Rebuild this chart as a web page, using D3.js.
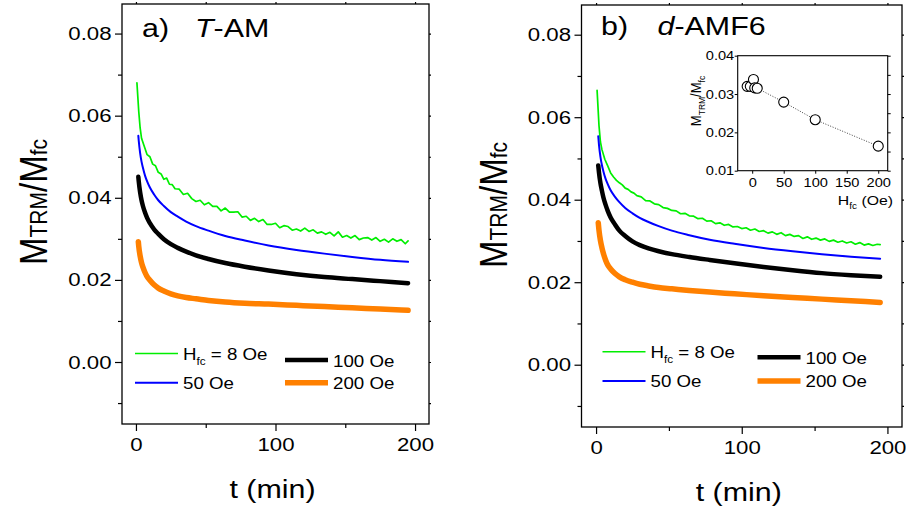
<!DOCTYPE html>
<html>
<head>
<meta charset="utf-8">
<script src="https://cdn.jsdelivr.net/npm/d3@7"></script>
<style>
  body { margin: 0; background: #fff; }
</style>
</head>
<body>
<svg id="chart" width="906" height="510"></svg>
<script>
// ---- data ----
const fieldNames = ["8 Oe", "50 Oe", "100 Oe", "200 Oe"];
const xMajorTicks = [0, 100, 200];
const xMinorTicks = [50, 150];
const yMajorTicks = [0, 0.02, 0.04, 0.06, 0.08];
const yMinorTicks = [-0.01, 0.01, 0.03, 0.05, 0.07];

// noisy 8 Oe relaxation (sampled densely)
const tGreen = [0.7, 2, 3, 4, 6, 8, 10, 12, 14, 16, 18, 20, 22, 24, 26, 28,
  31, 34, 37, 40, 43, 46, 49, 52, 55, 58, 61, 64, 67, 70, 73, 76, 79, 82, 85, 88,
  91, 94, 97, 100, 103, 106, 109, 112, 115, 118, 121, 124, 127, 130, 133, 136, 139, 142, 145, 148,
  151, 154, 157, 160, 163, 166, 169, 172, 175, 178, 181, 184, 187, 190, 193, 195];
const greenA = [0.0680, 0.0610, 0.0570, 0.0545, 0.0525, 0.0505, 0.0500, 0.0482, 0.0478, 0.0462, 0.0458, 0.0445, 0.0448, 0.0433, 0.0432, 0.0422,
  0.0421, 0.0408, 0.0411, 0.0398, 0.0391, 0.0394, 0.0383, 0.0388, 0.0379, 0.0379, 0.0368, 0.0375, 0.0365, 0.0365, 0.0366, 0.0353, 0.0355, 0.0345, 0.0350, 0.0342,
  0.0347, 0.0335, 0.0335, 0.0338, 0.0327, 0.0332, 0.0330, 0.0321, 0.0324, 0.0319, 0.0326, 0.0318, 0.0322, 0.0314, 0.0317, 0.0311, 0.0316, 0.0307, 0.0317, 0.0304,
  0.0308, 0.0302, 0.0308, 0.0298, 0.0302, 0.0303, 0.0297, 0.0303, 0.0294, 0.0299, 0.0292, 0.0300, 0.0294, 0.0298, 0.0288, 0.0295];
const greenB = [0.0665, 0.0580, 0.0540, 0.0522, 0.0498, 0.0482, 0.0465, 0.0455, 0.0447, 0.0441, 0.0436, 0.0428, 0.0425, 0.0419, 0.0416, 0.0410,
  0.0407, 0.0398, 0.0397, 0.0390, 0.0388, 0.0381, 0.0379, 0.0374, 0.0373, 0.0366, 0.0367, 0.0361, 0.0360, 0.0354, 0.0355, 0.0348, 0.0349, 0.0342, 0.0344, 0.0338,
  0.0340, 0.0334, 0.0335, 0.0330, 0.0332, 0.0326, 0.0329, 0.0323, 0.0325, 0.0319, 0.0322, 0.0316, 0.0320, 0.0313, 0.0316, 0.0311, 0.0313, 0.0306, 0.0310, 0.0304,
  0.0307, 0.0302, 0.0305, 0.0299, 0.0302, 0.0297, 0.0300, 0.0295, 0.0298, 0.0292, 0.0296, 0.0290, 0.0293, 0.0289, 0.0292, 0.0291];

// smooth curves, panel a (T-AM)
const tA = [1.7, 2, 3, 4, 5, 6.5, 8, 10, 13, 16, 20, 25, 30, 36, 43, 52, 64, 78, 95, 115, 135, 155, 175, 195];
const blueA = [0.0551, 0.0539, 0.0509, 0.0488, 0.0473, 0.0454, 0.0440, 0.0425, 0.0408, 0.0394, 0.0380, 0.0365,
  0.0354, 0.0342, 0.0331, 0.0320, 0.0307, 0.0296, 0.0284, 0.0273, 0.0264, 0.0256, 0.0249, 0.0244];
const blackA = [0.0451, 0.0440, 0.0413, 0.0394, 0.0380, 0.0364, 0.0351, 0.0338, 0.0323, 0.0312, 0.0299, 0.0287,
  0.0278, 0.0269, 0.0260, 0.0251, 0.0241, 0.0232, 0.0223, 0.0214, 0.0207, 0.0202, 0.0197, 0.0192];
const orangeA = [0.0293, 0.0282, 0.0258, 0.0242, 0.0231, 0.0218, 0.0208, 0.0199, 0.0188, 0.0180, 0.0173, 0.0166,
  0.0161, 0.0157, 0.0154, 0.0150, 0.0146, 0.0143, 0.0141, 0.0138, 0.0135, 0.0132, 0.0129, 0.0126];

// smooth curves, panel b (d-AMF6)
const tB = [1.5, 2, 3, 4, 5, 6.5, 8, 10, 13, 16, 20, 25, 30, 36, 43, 52, 64, 78, 95, 115, 135, 155, 175, 195];
const blueB = [0.0554, 0.0533, 0.0504, 0.0484, 0.0469, 0.0451, 0.0438, 0.0423, 0.0407, 0.0394, 0.0380, 0.0367,
  0.0356, 0.0346, 0.0336, 0.0325, 0.0314, 0.0303, 0.0293, 0.0283, 0.0275, 0.0268, 0.0262, 0.0257];
const blackB = [0.0483, 0.0466, 0.0440, 0.0422, 0.0406, 0.0388, 0.0373, 0.0357, 0.0340, 0.0325, 0.0312, 0.0299,
  0.0290, 0.0282, 0.0275, 0.0268, 0.0261, 0.0254, 0.0246, 0.0237, 0.0229, 0.0222, 0.0217, 0.0213];
const orangeB = [0.0344, 0.0326, 0.0301, 0.0284, 0.0270, 0.0254, 0.0242, 0.0232, 0.0221, 0.0213, 0.0206, 0.0200,
  0.0195, 0.0191, 0.0187, 0.0184, 0.0180, 0.0176, 0.0172, 0.0167, 0.0163, 0.0159, 0.0155, 0.0151];

// inset: ratio vs cooling field
const insetField = [-8, -3, 2, 4, 8, 50, 100, 200];
const insetRatio = [0.0320, 0.0320, 0.0338, 0.0316, 0.0315, 0.0279, 0.0233, 0.0164];
const insetXTicks = [0, 50, 100, 150, 200];
const insetYTicks = [0.01, 0.02, 0.03, 0.04];

// ---- drawing ----
const FONT = '"Liberation Sans", Arial, Helvetica, sans-serif';
const SX = 1.17; // the glyphs in the figure are a little wider than tall
const svg = d3.select("#chart");

function label(parent, x, y, size, extra) {
    return parent.append("text")
        .attr("transform", `translate(${x},${y}) scale(${SX},1)` + (extra || ""))
        .attr("font-family", FONT)
        .attr("font-size", size)
        .attr("fill", "#000");
}

function styleAxis(ax, fontSize) {
    ax.select(".domain").remove();
    ax.attr("font-family", null).attr("font-size", null);
    ax.selectAll("line").attr("stroke", "#000").attr("stroke-width", 1.2);
    ax.selectAll("text").attr("font-family", FONT).attr("font-size", fontSize).attr("fill", "#000");
}

function drawPanel(p) {
    const x = d3.scaleLinear().domain([-10, 210]).range([p.left, p.right]);
    const y = d3.scaleLinear().domain([-0.0151, 0.0872]).range([p.bottom, p.top]);
    const g = svg.append("g");

    // axes: major ticks with labels, minor ticks, mirrored ticks top/right
    const bx = g.append("g").attr("transform", `translate(0,${p.bottom})`)
        .call(d3.axisBottom(x).tickValues(xMajorTicks).tickSize(7).tickPadding(7).tickFormat(d3.format("d")));
    styleAxis(bx, 19);
    bx.selectAll("text").attr("transform", `scale(${SX},1)`);

    const bxm = g.append("g").attr("transform", `translate(0,${p.bottom})`)
        .call(d3.axisBottom(x).tickValues(xMinorTicks).tickSize(4).tickFormat(""));
    styleAxis(bxm, 19);

    const ly = g.append("g").attr("transform", `translate(${p.left},0)`)
        .call(d3.axisLeft(y).tickValues(yMajorTicks).tickSize(7).tickFormat(d3.format(".2f")));
    styleAxis(ly, 19);
    ly.selectAll("text").attr("x", -10.5 / SX).attr("transform", `scale(${SX},1)`);

    const lym = g.append("g").attr("transform", `translate(${p.left},0)`)
        .call(d3.axisLeft(y).tickValues(yMinorTicks).tickSize(4).tickFormat(""));
    styleAxis(lym, 19);

    const tx = g.append("g").attr("transform", `translate(0,${p.top})`)
        .call(d3.axisTop(x).tickValues(xMajorTicks.concat(xMinorTicks)).tickSize(2).tickFormat(""));
    styleAxis(tx, 19);
    const ry = g.append("g").attr("transform", `translate(${p.right},0)`)
        .call(d3.axisRight(y).tickValues(yMajorTicks.concat(yMinorTicks)).tickSize(2).tickFormat(""));
    styleAxis(ry, 19);

    g.append("rect")
        .attr("x", p.left).attr("y", p.top)
        .attr("width", p.right - p.left).attr("height", p.bottom - p.top)
        .attr("fill", "none").attr("stroke", "#000").attr("stroke-width", 1.3);

    // curves
    const smooth = d3.line().x(d => x(d[0])).y(d => y(d[1])).curve(d3.curveMonotoneX);
    const rough = d3.line().x(d => x(d[0])).y(d => y(d[1]));
    const series = [
        { t: tGreen, v: p.green, color: "#00ee00", w: 1.7, gen: rough },
        { t: p.t, v: p.blue, color: "#0000ff", w: 2, gen: smooth },
        { t: p.t, v: p.black, color: "#000000", w: 4.5, gen: smooth },
        { t: p.t, v: p.orange, color: "#ff8000", w: 5.5, gen: smooth }
    ];
    series.forEach(s => {
        g.append("path")
            .datum(s.t.map((t, i) => [t, s.v[i]]))
            .attr("d", s.gen)
            .attr("fill", "none")
            .attr("stroke", s.color)
            .attr("stroke-width", s.w)
            .attr("stroke-linecap", "round")
            .attr("stroke-linejoin", "round");
    });

    // legend
    series.forEach((s, i) => {
        const L = p.legend[i];
        g.append("line")
            .attr("x1", L.x).attr("x2", L.x + 43)
            .attr("y1", L.ly).attr("y2", L.ly)
            .attr("stroke", s.color).attr("stroke-width", i === 0 ? 1.6 : s.w);
        const t = label(g, L.x + 48, L.ty, 16);
        if (i === 0) {
            t.append("tspan").text("H");
            t.append("tspan").attr("font-size", 10).attr("dy", 5).text("fc");
            t.append("tspan").attr("dy", -5).text(" = " + fieldNames[i]);
        } else {
            t.text(fieldNames[i]);
        }
    });

    // title
    label(g, p.tag.x, p.tag.y, 26).text(p.tag.letter);
    const nm = label(g, p.tag.nx, p.tag.y, 26);
    nm.append("tspan").attr("font-style", "italic").text(p.tag.italic);
    nm.append("tspan").text(p.tag.rest);

    // axis titles
    label(g, (p.left + p.right) / 2 - 3, p.xLabelY, 26).attr("text-anchor", "middle").text("t (min)");
    const yl = label(g, p.yLabelX, p.yLabelY, 33, " rotate(-90)").attr("text-anchor", "middle");
    yl.append("tspan").text("M");
    yl.append("tspan").attr("font-size", 21).text("TRM");
    yl.append("tspan").text("/M");
    yl.append("tspan").attr("font-size", 21).text("fc");
}

drawPanel({
    left: 122, right: 429, top: 4, bottom: 424,
    t: tA, green: greenA, blue: blueA, black: blackA, orange: orangeA,
    legend: [
        { x: 135, ly: 353.5, ty: 360 },
        { x: 135, ly: 382.7, ty: 389 },
        { x: 285, ly: 360, ty: 366.7 },
        { x: 285, ly: 382.7, ty: 389 }
    ],
    tag: { letter: "a)", x: 142, nx: 195, y: 36.5, italic: "T", rest: "-AM" },
    xLabelY: 498, yLabelX: 47, yLabelY: 202
});

drawPanel({
    left: 581.5, right: 902, top: 5, bottom: 427,
    t: tB, green: greenB, blue: blueB, black: blackB, orange: orangeB,
    legend: [
        { x: 602.5, ly: 351.7, ty: 358.3 },
        { x: 602.5, ly: 381, ty: 387.3 },
        { x: 757.5, ly: 357.3, ty: 364 },
        { x: 757.5, ly: 381, ty: 387.3 }
    ],
    tag: { letter: "b)", x: 601, nx: 657.5, y: 35, italic: "d", rest: "-AMF6" },
    xLabelY: 501, yLabelX: 507, yLabelY: 205
});

// ---- inset in panel b ----
(function drawInset() {
    const inset = { left: 737.7, right: 887.7, top: 55.7, bottom: 170.7 };
    const x = d3.scaleLinear().domain([-23, 215]).range([inset.left, inset.right]);
    const y = d3.scaleLinear().domain([0.01, 0.04]).range([inset.bottom, inset.top]);
    const g = svg.append("g");

    g.append("rect")
        .attr("x", inset.left).attr("y", inset.top)
        .attr("width", inset.right - inset.left).attr("height", inset.bottom - inset.top)
        .attr("fill", "#fff");

    const bx = g.append("g").attr("transform", `translate(0,${inset.bottom})`)
        .call(d3.axisBottom(x).tickValues(insetXTicks).tickSize(3).tickPadding(4).tickFormat(d3.format("d")));
    styleAxis(bx, 12.5);
    bx.selectAll("line").attr("stroke-width", 1);
    bx.selectAll("text").attr("transform", `scale(${SX},1)`);

    const ly = g.append("g").attr("transform", `translate(${inset.left},0)`)
        .call(d3.axisLeft(y).tickValues(insetYTicks).tickSize(3).tickFormat(d3.format(".2f")));
    styleAxis(ly, 12.5);
    ly.selectAll("line").attr("stroke-width", 1);
    ly.selectAll("text").attr("x", -3.5 / SX).attr("transform", `scale(${SX},1)`);

    const ry = g.append("g").attr("transform", `translate(${inset.right},0)`)
        .call(d3.axisRight(y).ticks(6).tickSize(3).tickFormat(""));
    styleAxis(ry, 12.5);
    ry.selectAll("line").attr("stroke-width", 1);

    g.append("rect")
        .attr("x", inset.left).attr("y", inset.top)
        .attr("width", inset.right - inset.left).attr("height", inset.bottom - inset.top)
        .attr("fill", "none").attr("stroke", "#000").attr("stroke-width", 1.1);

    const pts = insetField.map((h, i) => [h, insetRatio[i]]).sort((a, b) => a[0] - b[0]);
    g.append("path")
        .datum(pts)
        .attr("d", d3.line().x(d => x(d[0])).y(d => y(d[1])))
        .attr("fill", "none")
        .attr("stroke", "#444")
        .attr("stroke-width", 1)
        .attr("stroke-dasharray", "1,1.6");

    g.selectAll("circle.pt")
        .data(pts)
        .enter()
        .append("circle")
        .attr("class", "pt")
        .attr("cx", d => x(d[0]))
        .attr("cy", d => y(d[1]))
        .attr("r", 5)
        .attr("fill", "#fff")
        .attr("stroke", "#000")
        .attr("stroke-width", 1.1);

    const xl = label(g, 893, 205, 13.5).attr("text-anchor", "end");
    xl.append("tspan").text("H");
    xl.append("tspan").attr("font-size", 8.5).attr("dy", 4).text("fc");
    xl.append("tspan").attr("dy", -4).text(" (Oe)");

    const yl = label(g, 701, 101, 13, " rotate(-90)").attr("text-anchor", "middle");
    yl.append("tspan").text("M");
    yl.append("tspan").attr("font-size", 8.5).attr("dy", 3).text("TRM");
    yl.append("tspan").attr("dy", -3).text("/M");
    yl.append("tspan").attr("font-size", 8.5).attr("dy", 3).text("fc");
})();
</script>
</body>
</html>
